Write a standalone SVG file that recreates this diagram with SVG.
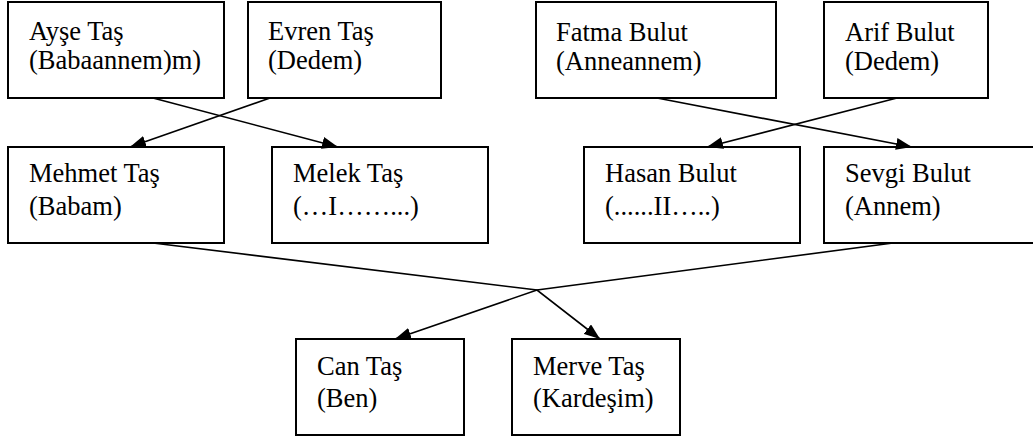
<svg xmlns="http://www.w3.org/2000/svg" width="1033" height="436" viewBox="0 0 1033 436">
<style>
.box{fill:#fff;stroke:#000;stroke-width:2}
.t{font-family:"Liberation Serif","Times New Roman",serif;font-size:26.5px;fill:#000}
.c{fill:none;stroke:#000;stroke-width:1.6}
</style>
<defs>
<marker id="ah" markerUnits="userSpaceOnUse" markerWidth="17" markerHeight="12" refX="16" refY="6" orient="auto">
<path d="M0,0 L16,6 L0,12 z" fill="#000"/>
</marker>
</defs>
<rect width="1033" height="436" fill="#fff"/>
<g id="ayse"><rect class="box" x="8" y="2" width="216" height="96"/><text class="t" x="29" y="40">Ayşe Taş</text><text class="t" x="29" y="69">(Babaannem)m)</text></g>
<g id="evren"><rect class="box" x="248" y="2" width="193" height="96"/><text class="t" x="268" y="40">Evren Taş</text><text class="t" x="268" y="69">(Dedem)</text></g>
<g id="fatma"><rect class="box" x="536" y="2" width="240" height="96"/><text class="t" x="556" y="41">Fatma Bulut</text><text class="t" x="556" y="70">(Anneannem)</text></g>
<g id="arif"><rect class="box" x="824" y="2" width="164" height="96"/><text class="t" x="845" y="41">Arif Bulut</text><text class="t" x="845" y="70">(Dedem)</text></g>
<g id="mehmet"><rect class="box" x="8" y="147" width="216" height="96"/><text class="t" x="29" y="182">Mehmet Taş</text><text class="t" x="29" y="215">(Babam)</text></g>
<g id="melek"><rect class="box" x="272" y="147" width="216" height="96"/><text class="t" x="293" y="182">Melek Taş</text><text class="t" x="293" y="215">(…I……...)</text></g>
<g id="hasan"><rect class="box" x="584" y="147" width="216" height="96"/><text class="t" x="605" y="182">Hasan Bulut</text><text class="t" x="605" y="215">(......II…..)</text></g>
<g id="sevgi"><rect class="box" x="824" y="147" width="220" height="96"/><text class="t" x="845" y="182">Sevgi Bulut</text><text class="t" x="845" y="215">(Annem)</text></g>
<g id="can"><rect class="box" x="296" y="339" width="168" height="96"/><text class="t" x="317" y="375">Can Taş</text><text class="t" x="317" y="407">(Ben)</text></g>
<g id="merve"><rect class="box" x="512" y="339" width="168" height="96"/><text class="t" x="533" y="375">Merve Taş</text><text class="t" x="533" y="407">(Kardeşim)</text></g>
<g id="connectors">
<line class="c" x1="153" y1="98" x2="338" y2="147" marker-end="url(#ah)"/>
<line class="c" x1="270" y1="98" x2="130" y2="147" marker-end="url(#ah)"/>
<line class="c" x1="657" y1="98" x2="912" y2="147" marker-end="url(#ah)"/>
<line class="c" x1="897" y1="98" x2="707" y2="147" marker-end="url(#ah)"/>
<polyline class="c" points="153,243 537,290 600,339" marker-end="url(#ah)"/>
<polyline class="c" points="893,243 537,290 395,339" marker-end="url(#ah)"/>
</g>
</svg>
